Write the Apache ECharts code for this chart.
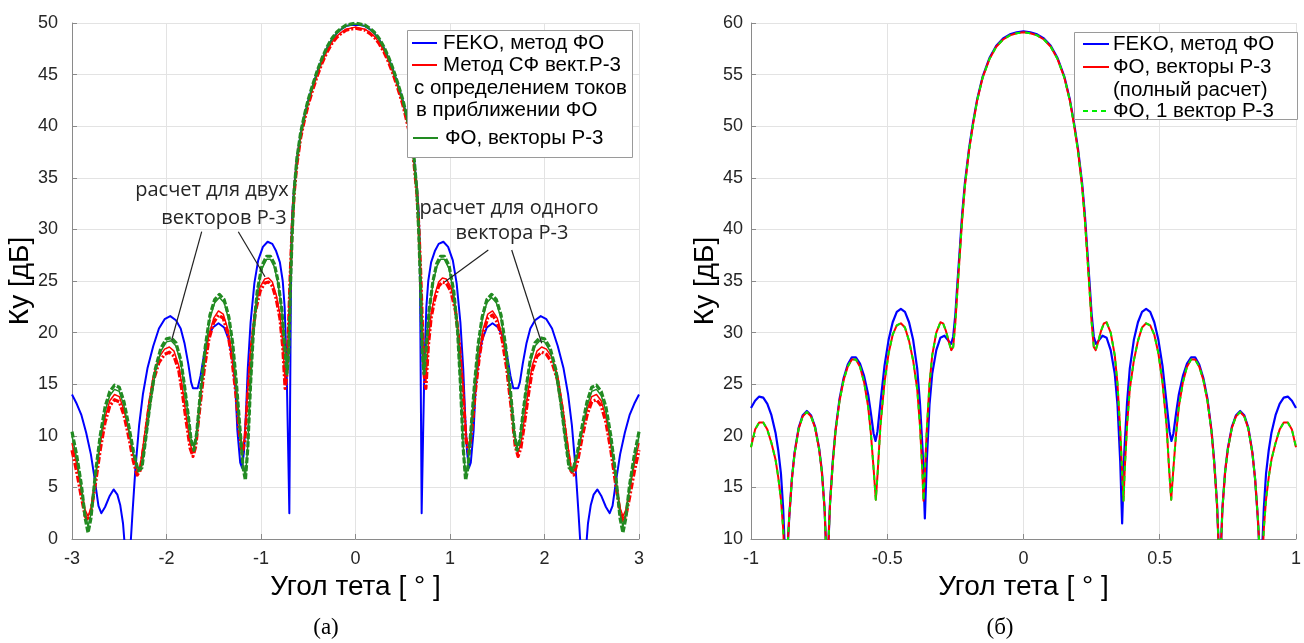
<!DOCTYPE html>
<html>
<head>
<meta charset="utf-8">
<script src="https://cdn.jsdelivr.net/npm/echarts@6/dist/echarts.min.js"></script>
<style>
  html, body { margin: 0; padding: 0; background: #ffffff; }
  #chart { width: 1304px; height: 643px; }
</style>
</head>
<body>
<div id="chart"></div>
<script>
// ---------- Panel (а): gain Ку [дБ] vs angle θ [°], −3…3 ----------
// FEKO, physical optics
const fekoA = [
  [-3.00,14.0],[-2.95,13.1],[-2.90,12.0],[-2.85,10.3],[-2.80,8.2],[-2.76,5.8],[-2.72,3.2],[-2.69,2.5],[-2.65,3.1],[-2.60,4.2],
  [-2.56,4.8],[-2.52,4.3],[-2.49,3.3],[-2.46,1.5],[-2.43,-2],[-2.39,-2],[-2.36,2.5],[-2.33,6.7],[-2.29,11.0],[-2.25,14.0],
  [-2.20,16.6],[-2.14,18.7],[-2.08,20.4],[-2.02,21.3],[-1.96,21.6],[-1.90,21.2],[-1.85,20.4],[-1.81,19.0],[-1.77,17.0],[-1.74,15.2],
  [-1.72,14.6],[-1.67,14.6],[-1.64,15.8],[-1.60,18.0],[-1.56,19.6],[-1.51,20.5],[-1.45,20.9],[-1.39,20.5],[-1.34,19.3],[-1.30,17.3],
  [-1.27,14.5],[-1.25,10.5],[-1.22,7.4],[-1.20,6.9],[-1.18,8.5],[-1.16,12.0],[-1.14,16.5],[-1.11,21.0],[-1.07,24.8],[-1.03,27.0],
  [-0.98,28.3],[-0.93,28.8],[-0.88,28.6],[-0.84,27.9],[-0.80,26.8],[-0.77,25.0],[-0.75,22.5],[-0.73,17.0],[-0.715,10.0],[-0.70,2.5],
  [-0.693,12.0],[-0.686,21.0],[-0.68,28.0],[-0.67,31.5],[-0.65,34.0],[-0.62,36.8],[-0.58,39.3],[-0.54,41.0],[-0.50,42.5],[-0.45,44.0],
  [-0.40,45.4],[-0.35,46.6],[-0.30,47.6],[-0.25,48.4],[-0.20,49.0],[-0.15,49.4],[-0.10,49.7],[-0.05,49.8],[0,49.8],
  [0.05,49.8],[0.10,49.7],[0.15,49.4],[0.20,49.0],[0.25,48.4],[0.30,47.6],[0.35,46.6],[0.40,45.4],[0.45,44.0],[0.50,42.5],
  [0.54,41.0],[0.58,39.3],[0.62,36.8],[0.65,34.0],[0.67,31.5],[0.68,28.0],[0.686,21.0],[0.693,12.0],[0.70,2.5],[0.715,10.0],
  [0.73,17.0],[0.75,22.5],[0.77,25.0],[0.80,26.8],[0.84,27.9],[0.88,28.6],[0.93,28.8],[0.98,28.3],[1.03,27.0],[1.07,24.8],
  [1.11,21.0],[1.14,16.5],[1.16,12.0],[1.18,8.5],[1.20,6.9],[1.22,7.4],[1.25,10.5],[1.27,14.5],[1.30,17.3],[1.34,19.3],
  [1.39,20.5],[1.45,20.9],[1.51,20.5],[1.56,19.6],[1.60,18.0],[1.64,15.8],[1.67,14.6],[1.72,14.6],[1.74,15.2],[1.77,17.0],
  [1.81,19.0],[1.85,20.4],[1.90,21.2],[1.96,21.6],[2.02,21.3],[2.08,20.4],[2.14,18.7],[2.20,16.6],[2.25,14.0],[2.29,11.0],
  [2.33,6.7],[2.36,2.5],[2.39,-2],[2.43,-2],[2.46,1.5],[2.49,3.3],[2.52,4.3],[2.56,4.8],[2.60,4.2],[2.65,3.1],
  [2.69,2.5],[2.72,3.2],[2.76,5.8],[2.80,8.2],[2.85,10.3],[2.90,12.0],[2.95,13.1],[3.00,14.0]
];

// Метод СФ, векторы Р-3 (currents in PO approximation): two-vector calculation
const sfTwoA = [
  [-3.00,9.3],[-2.95,7.2],[-2.90,4.8],[-2.86,2.8],[-2.83,2.2],[-2.80,3.0],[-2.75,6.0],[-2.70,9.2],[-2.65,11.8],[-2.60,13.4],
  [-2.55,14.0],[-2.50,13.8],[-2.45,12.5],[-2.40,10.4],[-2.35,8.0],[-2.31,6.6],[-2.28,7.0],[-2.24,9.5],[-2.19,13.0],[-2.14,15.8],
  [-2.08,17.6],[-2.02,18.4],[-1.97,18.6],[-1.92,18.2],[-1.87,16.8],[-1.83,14.5],[-1.79,11.8],[-1.75,9.2],[-1.72,8.4],[-1.69,9.5],
  [-1.65,13.0],[-1.60,17.0],[-1.55,19.8],[-1.50,21.4],[-1.45,22.1],[-1.40,21.8],[-1.35,20.3],[-1.31,18.0],[-1.27,14.8],[-1.23,10.8],
  [-1.20,8.8],[-1.17,10.0],[-1.14,14.5],[-1.10,19.2],[-1.06,22.4],[-1.01,24.4],[-0.96,25.2],[-0.92,25.3],[-0.88,24.9],[-0.84,23.7],
  [-0.80,21.8],[-0.77,19.0],[-0.745,15.3],[-0.725,16.5],[-0.71,20.5],[-0.69,26.0],[-0.67,30.5],[-0.65,33.5],[-0.62,36.4],[-0.58,39.0],
  [-0.54,40.7],[-0.50,42.2],[-0.45,43.7],[-0.40,45.1],[-0.35,46.3],[-0.30,47.3],[-0.25,48.1],[-0.20,48.7],[-0.15,49.1],[-0.10,49.4],
  [-0.05,49.5],[0,49.6],
  [0.05,49.5],[0.10,49.4],[0.15,49.1],[0.20,48.7],[0.25,48.1],[0.30,47.3],[0.35,46.3],[0.40,45.1],[0.45,43.7],[0.50,42.2],
  [0.54,40.7],[0.58,39.0],[0.62,36.4],[0.65,33.5],[0.67,30.5],[0.69,26.0],[0.71,20.5],[0.725,16.5],[0.745,15.3],[0.77,19.0],
  [0.80,21.8],[0.84,23.7],[0.88,24.9],[0.92,25.3],[0.96,25.2],[1.01,24.4],[1.06,22.4],[1.10,19.2],[1.14,14.5],[1.17,10.0],
  [1.20,8.8],[1.23,10.8],[1.27,14.8],[1.31,18.0],[1.35,20.3],[1.40,21.8],[1.45,22.1],[1.50,21.4],[1.55,19.8],[1.60,17.0],
  [1.65,13.0],[1.69,9.5],[1.72,8.4],[1.75,9.2],[1.79,11.8],[1.83,14.5],[1.87,16.8],[1.92,18.2],[1.97,18.6],[2.02,18.4],
  [2.08,17.6],[2.14,15.8],[2.19,13.0],[2.24,9.5],[2.28,7.0],[2.31,6.6],[2.35,8.0],[2.40,10.4],[2.45,12.5],[2.50,13.8],
  [2.55,14.0],[2.60,13.4],[2.65,11.8],[2.70,9.2],[2.75,6.0],[2.80,3.0],[2.83,2.2],[2.86,2.8],[2.90,4.8],[2.95,7.2],[3.00,9.3]
];

// Метод СФ: one-vector calculation
const sfOneA = [
  [-3.00,8.6],[-2.95,6.5],[-2.90,4.0],[-2.86,2.2],[-2.83,1.8],[-2.80,2.6],[-2.75,5.5],[-2.70,8.7],[-2.65,11.3],[-2.60,12.9],
  [-2.55,13.5],[-2.50,13.3],[-2.45,12.0],[-2.40,9.9],[-2.35,7.5],[-2.31,6.2],[-2.28,6.6],[-2.24,9.0],[-2.19,12.5],[-2.14,15.3],
  [-2.08,17.1],[-2.02,17.9],[-1.97,18.1],[-1.92,17.7],[-1.87,16.3],[-1.83,14.0],[-1.79,11.3],[-1.75,8.8],[-1.72,8.0],[-1.69,9.0],
  [-1.65,12.5],[-1.60,16.5],[-1.55,19.4],[-1.50,21.0],[-1.45,21.7],[-1.40,21.4],[-1.35,19.9],[-1.31,17.6],[-1.27,14.4],[-1.23,10.4],
  [-1.20,8.3],[-1.17,9.5],[-1.14,14.0],[-1.10,18.8],[-1.06,22.0],[-1.01,24.0],[-0.96,24.8],[-0.92,24.9],[-0.88,24.5],[-0.84,23.3],
  [-0.80,21.4],[-0.77,18.6],[-0.745,14.6],[-0.725,16.0],[-0.71,20.2],[-0.69,25.8],[-0.67,30.3],[-0.65,33.4],[-0.62,36.3],[-0.58,38.9],
  [-0.54,40.6],[-0.50,42.1],[-0.45,43.6],[-0.40,45.0],[-0.35,46.2],[-0.30,47.2],[-0.25,48.0],[-0.20,48.6],[-0.15,49.0],[-0.10,49.3],
  [-0.05,49.4],[0,49.5],
  [0.05,49.4],[0.10,49.3],[0.15,49.0],[0.20,48.6],[0.25,48.0],[0.30,47.2],[0.35,46.2],[0.40,45.0],[0.45,43.6],[0.50,42.1],
  [0.54,40.6],[0.58,38.9],[0.62,36.3],[0.65,33.4],[0.67,30.3],[0.69,25.8],[0.71,20.2],[0.725,16.0],[0.745,14.6],[0.77,18.6],
  [0.80,21.4],[0.84,23.3],[0.88,24.5],[0.92,24.9],[0.96,24.8],[1.01,24.0],[1.06,22.0],[1.10,18.8],[1.14,14.0],[1.17,9.5],
  [1.20,8.3],[1.23,10.4],[1.27,14.4],[1.31,17.6],[1.35,19.9],[1.40,21.4],[1.45,21.7],[1.50,21.0],[1.55,19.4],[1.60,16.5],
  [1.65,12.5],[1.69,9.0],[1.72,8.0],[1.75,8.8],[1.79,11.3],[1.83,14.0],[1.87,16.3],[1.92,17.7],[1.97,18.1],[2.02,17.9],
  [2.08,17.1],[2.14,15.3],[2.19,12.5],[2.24,9.0],[2.28,6.6],[2.31,6.2],[2.35,7.5],[2.40,9.9],[2.45,12.0],[2.50,13.3],
  [2.55,13.5],[2.60,12.9],[2.65,11.3],[2.70,8.7],[2.75,5.5],[2.80,2.6],[2.83,1.8],[2.86,2.2],[2.90,4.0],[2.95,6.5],[3.00,8.6]
];

// ФО, векторы Р-3: two-vector calculation
const foTwoA = [
  [-3.00,10.0],[-2.95,7.8],[-2.90,5.0],[-2.86,2.4],[-2.83,1.2],[-2.80,2.4],[-2.75,6.3],[-2.70,9.8],[-2.65,12.4],[-2.60,13.9],
  [-2.55,14.5],[-2.50,14.3],[-2.45,12.9],[-2.40,10.7],[-2.35,8.3],[-2.30,6.8],[-2.26,7.1],[-2.22,9.5],[-2.17,13.1],[-2.12,16.1],
  [-2.06,18.2],[-2.00,19.1],[-1.95,19.2],[-1.90,18.7],[-1.85,17.1],[-1.81,14.7],[-1.77,11.9],[-1.74,9.7],[-1.71,8.9],[-1.68,10.4],
  [-1.64,14.1],[-1.59,18.3],[-1.54,21.4],[-1.49,22.9],[-1.44,23.4],[-1.39,22.9],[-1.34,21.2],[-1.30,18.7],[-1.26,14.9],[-1.22,10.4],
  [-1.19,7.1],[-1.165,6.0],[-1.14,9.0],[-1.11,15.0],[-1.08,20.0],[-1.04,23.8],[-0.99,26.2],[-0.94,27.1],[-0.90,27.1],[-0.86,26.4],
  [-0.82,24.8],[-0.78,22.1],[-0.75,18.8],[-0.725,16.3],[-0.705,18.5],[-0.69,24.0],[-0.67,29.5],[-0.65,33.6],[-0.62,36.8],[-0.58,39.3],
  [-0.54,41.0],[-0.50,42.5],[-0.45,44.0],[-0.40,45.4],[-0.35,46.6],[-0.30,47.6],[-0.25,48.4],[-0.20,49.0],[-0.15,49.4],[-0.10,49.7],
  [-0.05,49.8],[0,49.9],
  [0.05,49.8],[0.10,49.7],[0.15,49.4],[0.20,49.0],[0.25,48.4],[0.30,47.6],[0.35,46.6],[0.40,45.4],[0.45,44.0],[0.50,42.5],
  [0.54,41.0],[0.58,39.3],[0.62,36.8],[0.65,33.6],[0.67,29.5],[0.69,24.0],[0.705,18.5],[0.725,16.3],[0.75,18.8],[0.78,22.1],
  [0.82,24.8],[0.86,26.4],[0.90,27.1],[0.94,27.1],[0.99,26.2],[1.04,23.8],[1.08,20.0],[1.11,15.0],[1.14,9.0],[1.165,6.0],
  [1.19,7.1],[1.22,10.4],[1.26,14.9],[1.30,18.7],[1.34,21.2],[1.39,22.9],[1.44,23.4],[1.49,22.9],[1.54,21.4],[1.59,18.3],
  [1.64,14.1],[1.68,10.4],[1.71,8.9],[1.74,9.7],[1.77,11.9],[1.81,14.7],[1.85,17.1],[1.90,18.7],[1.95,19.2],[2.00,19.1],
  [2.06,18.2],[2.12,16.1],[2.17,13.1],[2.22,9.5],[2.26,7.1],[2.30,6.8],[2.35,8.3],[2.40,10.7],[2.45,12.9],[2.50,14.3],
  [2.55,14.5],[2.60,13.9],[2.65,12.4],[2.70,9.8],[2.75,6.3],[2.80,2.4],[2.83,1.2],[2.86,2.4],[2.90,5.0],[2.95,7.8],[3.00,10.0]
];

// ФО, векторы Р-3: one-vector calculation
const foOneA = [
  [-3.00,10.4],[-2.95,8.1],[-2.90,5.2],[-2.86,2.0],[-2.83,0.6],[-2.80,2.0],[-2.75,6.5],[-2.70,10.1],[-2.65,12.8],[-2.60,14.3],
  [-2.55,14.9],[-2.50,14.7],[-2.45,13.3],[-2.40,11.0],[-2.35,8.5],[-2.30,6.6],[-2.26,6.9],[-2.22,9.7],[-2.17,13.4],[-2.12,16.4],
  [-2.06,18.5],[-2.00,19.4],[-1.95,19.5],[-1.90,19.0],[-1.85,17.4],[-1.81,14.9],[-1.77,12.0],[-1.74,9.6],[-1.71,8.6],[-1.68,10.3],
  [-1.64,14.3],[-1.59,18.6],[-1.54,21.7],[-1.49,23.2],[-1.44,23.7],[-1.39,23.2],[-1.34,21.5],[-1.30,19.0],[-1.26,15.1],[-1.22,10.4],
  [-1.19,6.9],[-1.165,5.7],[-1.14,8.8],[-1.11,15.1],[-1.08,20.2],[-1.04,24.0],[-0.99,26.5],[-0.94,27.4],[-0.90,27.4],[-0.86,26.7],
  [-0.82,25.0],[-0.78,22.2],[-0.75,18.8],[-0.725,16.0],[-0.705,18.3],[-0.69,24.0],[-0.67,29.6],[-0.65,33.7],[-0.62,36.9],[-0.58,39.4],
  [-0.54,41.1],[-0.50,42.6],[-0.45,44.1],[-0.40,45.5],[-0.35,46.7],[-0.30,47.7],[-0.25,48.5],[-0.20,49.1],[-0.15,49.5],[-0.10,49.8],
  [-0.05,49.9],[0,50.0],
  [0.05,49.9],[0.10,49.8],[0.15,49.5],[0.20,49.1],[0.25,48.5],[0.30,47.7],[0.35,46.7],[0.40,45.5],[0.45,44.1],[0.50,42.6],
  [0.54,41.1],[0.58,39.4],[0.62,36.9],[0.65,33.7],[0.67,29.6],[0.69,24.0],[0.705,18.3],[0.725,16.0],[0.75,18.8],[0.78,22.2],
  [0.82,25.0],[0.86,26.7],[0.90,27.4],[0.94,27.4],[0.99,26.5],[1.04,24.0],[1.08,20.2],[1.11,15.1],[1.14,8.8],[1.165,5.7],
  [1.19,6.9],[1.22,10.4],[1.26,15.1],[1.30,19.0],[1.34,21.5],[1.39,23.2],[1.44,23.7],[1.49,23.2],[1.54,21.7],[1.59,18.6],
  [1.64,14.3],[1.68,10.3],[1.71,8.6],[1.74,9.6],[1.77,12.0],[1.81,14.9],[1.85,17.4],[1.90,19.0],[1.95,19.5],[2.00,19.4],
  [2.06,18.5],[2.12,16.4],[2.17,13.4],[2.22,9.7],[2.26,6.9],[2.30,6.6],[2.35,8.5],[2.40,11.0],[2.45,13.3],[2.50,14.7],
  [2.55,14.9],[2.60,14.3],[2.65,12.8],[2.70,10.1],[2.75,6.5],[2.80,2.0],[2.83,0.6],[2.86,2.0],[2.90,5.2],[2.95,8.1],[3.00,10.4]
];

// ---------- Panel (б): gain Ку [дБ] vs angle θ [°], −1…1 ----------
const fekoB = [
  [-1.000,22.7],[-0.985,23.4],[-0.97,23.8],[-0.955,23.7],[-0.94,23.1],[-0.925,22.0],[-0.91,20.3],[-0.90,18.6],[-0.89,16.3],[-0.882,13.0],
  [-0.876,9.0],[-0.872,5.0],[-0.866,9.0],[-0.86,12.0],[-0.85,15.8],[-0.84,18.4],[-0.825,20.8],[-0.81,22.0],[-0.795,22.4],[-0.78,22.0],
  [-0.765,20.9],[-0.75,18.8],[-0.74,16.6],[-0.73,13.0],[-0.725,9.5],[-0.721,5.0],[-0.716,9.5],[-0.71,13.5],[-0.70,17.5],[-0.69,20.5],
  [-0.675,23.6],[-0.66,25.6],[-0.645,26.9],[-0.63,27.6],[-0.615,27.6],[-0.60,27.0],[-0.585,25.8],[-0.57,24.0],[-0.56,22.2],[-0.55,20.2],
  [-0.543,19.5],[-0.536,20.4],[-0.525,23.2],[-0.51,26.8],[-0.495,29.3],[-0.48,31.0],[-0.465,32.0],[-0.45,32.3],[-0.435,32.0],[-0.42,31.0],
  [-0.405,29.3],[-0.39,26.5],[-0.38,23.2],[-0.37,18.5],[-0.362,12.0],[-0.355,17.5],[-0.345,23.0],[-0.335,26.0],[-0.32,28.3],[-0.305,29.5],
  [-0.29,29.7],[-0.278,29.3],[-0.266,28.9],[-0.258,29.6],[-0.25,31.8],[-0.242,35.0],[-0.234,38.0],[-0.225,41.5],[-0.215,44.5],[-0.20,47.8],
  [-0.185,50.4],[-0.17,52.6],[-0.15,54.8],[-0.125,56.6],[-0.10,57.8],[-0.075,58.5],[-0.05,58.9],[-0.025,59.1],[0,59.2],
  [0.025,59.1],[0.05,58.9],[0.075,58.5],[0.10,57.8],[0.125,56.6],[0.15,54.8],[0.17,52.6],[0.185,50.4],[0.20,47.8],[0.215,44.5],
  [0.225,41.5],[0.234,38.0],[0.242,35.0],[0.25,31.8],[0.258,29.6],[0.266,28.9],[0.278,29.3],[0.29,29.7],[0.305,29.5],[0.32,28.3],
  [0.335,26.0],[0.345,23.0],[0.355,17.5],[0.362,11.5],[0.37,18.5],[0.38,23.2],[0.39,26.5],[0.405,29.3],[0.42,31.0],[0.435,32.0],
  [0.45,32.3],[0.465,32.0],[0.48,31.0],[0.495,29.3],[0.51,26.8],[0.525,23.2],[0.536,20.4],[0.543,19.5],[0.55,20.2],[0.56,22.2],
  [0.57,24.0],[0.585,25.8],[0.60,27.0],[0.615,27.6],[0.63,27.6],[0.645,26.9],[0.66,25.6],[0.675,23.6],[0.69,20.5],[0.70,17.5],
  [0.71,13.5],[0.716,9.5],[0.721,5.0],[0.725,9.5],[0.73,13.0],[0.74,16.6],[0.75,18.8],[0.765,20.9],[0.78,22.0],[0.795,22.4],
  [0.81,22.0],[0.825,20.8],[0.84,18.4],[0.85,15.8],[0.86,12.0],[0.866,9.0],[0.872,5.0],[0.876,9.0],[0.882,13.0],[0.89,16.3],
  [0.90,18.6],[0.91,20.3],[0.925,22.0],[0.94,23.1],[0.955,23.7],[0.97,23.8],[0.985,23.4],[1.000,22.7]
];

// ФО, векторы Р-3 (full calculation)
const foFullB = [
  [-1.000,18.9],[-0.985,20.6],[-0.97,21.3],[-0.955,21.3],[-0.94,20.6],[-0.925,19.3],[-0.91,17.7],[-0.90,16.0],[-0.89,13.8],[-0.882,11.0],
  [-0.876,7.5],[-0.872,5.0],[-0.866,9.0],[-0.86,12.0],[-0.85,15.8],[-0.84,18.3],[-0.825,20.7],[-0.81,21.9],[-0.795,22.3],[-0.78,21.9],
  [-0.765,20.8],[-0.75,18.7],[-0.74,16.5],[-0.73,12.9],[-0.725,9.5],[-0.721,5.0],[-0.716,9.5],[-0.71,13.4],[-0.70,17.3],[-0.69,20.4],
  [-0.675,23.4],[-0.66,25.4],[-0.645,26.7],[-0.63,27.4],[-0.615,27.4],[-0.60,26.7],[-0.585,25.2],[-0.57,22.8],[-0.56,20.2],[-0.55,16.8],
  [-0.542,13.8],[-0.535,16.5],[-0.525,21.0],[-0.51,25.2],[-0.495,28.0],[-0.48,29.8],[-0.465,30.7],[-0.45,30.9],[-0.435,30.5],[-0.42,29.2],
  [-0.405,27.3],[-0.39,24.5],[-0.38,21.0],[-0.372,17.0],[-0.367,13.7],[-0.362,16.5],[-0.355,20.5],[-0.345,25.0],[-0.335,27.8],[-0.32,30.0],
  [-0.305,31.0],[-0.295,30.9],[-0.285,30.2],[-0.275,29.2],[-0.265,28.3],[-0.258,28.6],[-0.25,31.0],[-0.242,34.3],[-0.234,37.5],[-0.225,41.0],
  [-0.215,44.2],[-0.20,47.6],[-0.185,50.2],[-0.17,52.5],[-0.15,54.7],[-0.125,56.5],[-0.10,57.7],[-0.075,58.4],[-0.05,58.8],[-0.025,59.0],[0,59.1],
  [0.025,59.0],[0.05,58.8],[0.075,58.4],[0.10,57.7],[0.125,56.5],[0.15,54.7],[0.17,52.5],[0.185,50.2],[0.20,47.6],[0.215,44.2],
  [0.225,41.0],[0.234,37.5],[0.242,34.3],[0.25,31.0],[0.258,28.6],[0.265,28.3],[0.275,29.2],[0.285,30.2],[0.295,30.9],[0.305,31.0],
  [0.32,30.0],[0.335,27.8],[0.345,25.0],[0.355,20.5],[0.362,16.5],[0.367,13.7],[0.372,17.0],[0.38,21.0],[0.39,24.5],[0.405,27.3],
  [0.42,29.2],[0.435,30.5],[0.45,30.9],[0.465,30.7],[0.48,29.8],[0.495,28.0],[0.51,25.2],[0.525,21.0],[0.535,16.5],[0.542,13.8],
  [0.55,16.8],[0.56,20.2],[0.57,22.8],[0.585,25.2],[0.60,26.7],[0.615,27.4],[0.63,27.4],[0.645,26.7],[0.66,25.4],[0.675,23.4],
  [0.69,20.4],[0.70,17.3],[0.71,13.4],[0.716,9.5],[0.721,5.0],[0.725,9.5],[0.73,12.9],[0.74,16.5],[0.75,18.7],[0.765,20.8],
  [0.78,21.9],[0.795,22.3],[0.81,21.9],[0.825,20.7],[0.84,18.3],[0.85,15.8],[0.86,12.0],[0.866,9.0],[0.872,5.0],[0.876,7.5],
  [0.882,11.0],[0.89,13.8],[0.90,16.0],[0.91,17.7],[0.925,19.3],[0.94,20.6],[0.955,21.3],[0.97,21.3],[0.985,20.6],[1.000,18.9]
];

// ФО, 1 вектор Р-3: coincides with the full calculation at this scale
const foOneB = foFullB;

// ---------- styling ----------
const SANS = "'Liberation Sans', Arial, Helvetica, sans-serif";
const AXIS_COLOR = '#8a8a8a';
const TEXT_COLOR = '#262626';
const GRID_COLOR = '#e3e3e3';

function valueAxis(extra) {
  return Object.assign({
    type: 'value',
    axisLine: { show: true, onZero: false, lineStyle: { color: AXIS_COLOR, width: 1 } },
    axisTick: { show: true, inside: true, length: 5, lineStyle: { color: AXIS_COLOR } },
    axisLabel: { color: TEXT_COLOR, fontFamily: SANS, fontSize: 18 },
    splitLine: { show: true, lineStyle: { color: GRID_COLOR, width: 1 } },
    nameLocation: 'middle',
    nameTextStyle: { color: '#000', fontFamily: SANS, fontSize: 28 }
  }, extra);
}

function line(name, data, axis, color, width, type, z) {
  return {
    name, type: 'line', data,
    xAxisIndex: axis, yAxisIndex: axis,
    showSymbol: false, symbol: 'none', smooth: false,
    clip: true, animation: false, z,
    lineStyle: { color, width, type, cap: 'butt', join: 'round' }
  };
}

const legendText = (x, y, text) => ({
  type: 'text', x, y, z: 110,
  style: { text, fill: '#000', font: `20.5px ${SANS}`, textVerticalAlign: 'middle', verticalAlign: 'middle' }
});
const legendLine = (x1, x2, y, stroke, dash) => ({
  type: 'line', z: 110,
  shape: { x1, y1: y, x2, y2: y },
  style: { stroke, lineWidth: 2, lineDash: dash || null }
});
const noteText = (x, y, text) => ({
  type: 'text', x, y, z: 110,
  style: { text, fill: '#262626', font: "20px 'Open Sans', 'Noto Sans', sans-serif",
           align: 'center', textAlign: 'center', verticalAlign: 'middle', textVerticalAlign: 'middle' }
});
const pointer = (x1, y1, x2, y2) => ({
  type: 'line', z: 105, shape: { x1, y1, x2, y2 }, style: { stroke: '#222', lineWidth: 1.2 }
});
const caption = (x, text) => ({
  type: 'text', x, y: 628, z: 110,
  style: { text, fill: '#000', font: "23px 'Liberation Serif', 'Times New Roman', serif",
           align: 'center', textAlign: 'center', verticalAlign: 'middle', textVerticalAlign: 'middle' }
});

const option = {
  backgroundColor: '#ffffff',
  animation: false,
  grid: [
    { left: 72, top: 23, width: 567, height: 516, containLabel: false },
    { left: 751, top: 23, width: 553, height: 516, containLabel: false }
  ],
  xAxis: [
    valueAxis({ gridIndex: 0, min: -3, max: 3, interval: 1, name: 'Угол тета [ ° ]', nameGap: 31,
                axisLabel: { color: TEXT_COLOR, fontFamily: SANS, fontSize: 18, margin: 11 } }),
    valueAxis({ gridIndex: 1, min: -1, max: 1, interval: 0.5, name: 'Угол тета [ ° ]', nameGap: 31,
                axisLabel: { color: TEXT_COLOR, fontFamily: SANS, fontSize: 18, margin: 11,
                             alignMaxLabel: 'center' } })
  ],
  yAxis: [
    valueAxis({ gridIndex: 0, min: 0, max: 50, interval: 5, name: 'Ку [дБ]', nameGap: 36,
                axisLabel: { color: TEXT_COLOR, fontFamily: SANS, fontSize: 18, margin: 14 } }),
    valueAxis({ gridIndex: 1, min: 10, max: 60, interval: 5, name: 'Ку [дБ]', nameGap: 29,
                axisLabel: { color: TEXT_COLOR, fontFamily: SANS, fontSize: 18, margin: 8 } })
  ],
  series: [
    line('FEKO, метод ФО', fekoA, 0, '#0000ff', 2, 'solid', 2),
    line('Метод СФ, 2 вектора', sfTwoA, 0, '#ff0000', 1.5, 'solid', 3),
    line('Метод СФ, 1 вектор', sfOneA, 0, '#ff0000', 3.2, [7, 2, 2, 2], 4),
    line('ФО, 2 вектора', foTwoA, 0, '#228b22', 1.5, 'solid', 5),
    line('ФО, 1 вектор', foOneA, 0, '#228b22', 3.2, [6, 2], 6),
    line('FEKO, метод ФО', fekoB, 1, '#0000ff', 2.2, 'solid', 2),
    line('ФО, векторы Р-3 (полный расчет)', foFullB, 1, '#ff0000', 2, 'solid', 3),
    line('ФО, 1 вектор Р-3', foOneB, 1, '#00ee00', 2, [5, 5], 4)
  ],
  graphic: [
    // legend (а)
    { type: 'rect', z: 100, shape: { x: 407.5, y: 30.5, width: 225, height: 127 },
      style: { fill: '#ffffff', stroke: '#9a9a9a', lineWidth: 1 } },
    legendLine(412, 437, 43, '#0000ff'),
    legendText(443, 43, 'FEKO, метод ФО'),
    legendLine(412, 437, 65, '#ff0000'),
    legendText(443, 65, 'Метод СФ вект.Р-3'),
    legendText(414, 88, 'с определением токов'),
    legendText(416, 110, 'в приближении ФО'),
    legendLine(413, 438, 138, '#228b22'),
    legendText(445, 138, 'ФО, векторы Р-3'),
    // legend (б)
    { type: 'rect', z: 100, shape: { x: 1074.5, y: 32.5, width: 223, height: 87 },
      style: { fill: '#ffffff', stroke: '#9a9a9a', lineWidth: 1 } },
    legendLine(1083, 1109, 44, '#0000ff'),
    legendText(1113, 44, 'FEKO, метод ФО'),
    legendLine(1083, 1109, 67, '#ff0000'),
    legendText(1113, 67, 'ФО, векторы Р-3'),
    legendText(1113, 90, '(полный расчет)'),
    legendLine(1083, 1109, 111, '#00ee00', [5, 4]),
    legendText(1113, 111, 'ФО, 1 вектор Р-3'),
    // call-outs
    noteText(212, 190, 'расчет для двух'),
    noteText(224, 218, 'векторов Р-3'),
    pointer(201.7, 231.7, 171.7, 340),
    pointer(238.3, 231.7, 265, 276.7),
    noteText(509, 208, 'расчет для одного'),
    noteText(512, 233, 'вектора Р-3'),
    pointer(488.3, 250, 445, 281.7),
    pointer(511.7, 250, 541.7, 343.3),
    // panel captions
    caption(326, '(а)'),
    caption(1000, '(б)')
  ]
};

const chart = echarts.init(document.getElementById('chart'), null, { renderer: 'canvas' });
chart.setOption(option);
</script>
</body>
</html>
